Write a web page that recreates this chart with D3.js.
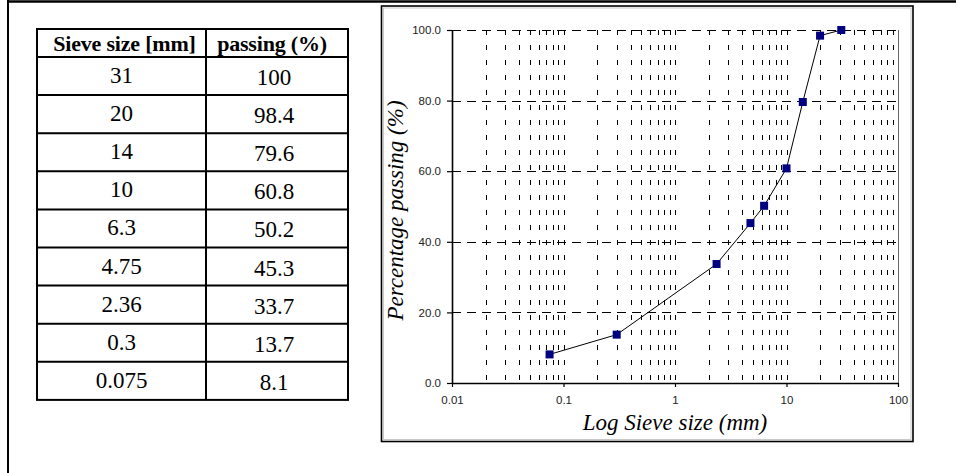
<!DOCTYPE html>
<html>
<head>
<meta charset="utf-8">
<script src="https://cdn.jsdelivr.net/npm/d3@7"></script>
<style>
  html, body { margin: 0; padding: 0; background: #fff; }
  svg { display: block; }
</style>
</head>
<body>
<svg id="chart" width="956" height="473"></svg>
<script>
// data
const sieveSizes = [31, 20, 14, 10, 6.3, 4.75, 2.36, 0.3, 0.075];
const passing = [100, 98.4, 79.6, 60.8, 50.2, 45.3, 33.7, 13.7, 8.1];
const tableHeaders = ["Sieve size [mm]", "passing (%)"];
const yTicks = [0, 20, 40, 60, 80, 100];
const xTicks = [0.01, 0.1, 1, 10, 100];
const xTitle = "Log Sieve size (mm)";
const yTitle = "Percentage passing (%)";

const svg = d3.select("#chart");
const serif = "'Liberation Serif', 'Times New Roman', Times, serif";
const sans = "'Liberation Sans', Arial, sans-serif";

// outer page frame (top + left edge only visible)
svg.append("line").attr("x1", 8).attr("x2", 956).attr("y1", 1.5).attr("y2", 1.5)
  .attr("stroke", "#000").attr("stroke-width", 2.5);
svg.append("line").attr("x1", 8).attr("x2", 8).attr("y1", 0).attr("y2", 473)
  .attr("stroke", "#000").attr("stroke-width", 2);

// ---- table ----
const tbl = { left: 37, mid: 206, right: 348, top: 29, headH: 28, rowH: 38.1 };
const rows = sieveSizes.map((s, i) => [String(s), String(passing[i])]);
const rowY = i => tbl.top + tbl.headH + i * tbl.rowH;
const tblBottom = rowY(rows.length);
const colX = [(tbl.left + tbl.mid) / 2, (tbl.mid + tbl.right) / 2 - 3];

const tg = svg.append("g");
tg.append("rect")
  .attr("x", tbl.left).attr("y", tbl.top)
  .attr("width", tbl.right - tbl.left).attr("height", tblBottom - tbl.top)
  .attr("fill", "none").attr("stroke", "#000").attr("stroke-width", 2);
tg.append("line").attr("x1", tbl.mid).attr("x2", tbl.mid)
  .attr("y1", tbl.top).attr("y2", tblBottom)
  .attr("stroke", "#000").attr("stroke-width", 2);
tg.selectAll("line.row")
  .data(d3.range(rows.length))
  .join("line").attr("class", "row")
  .attr("x1", tbl.left).attr("x2", tbl.right)
  .attr("y1", i => rowY(i)).attr("y2", i => rowY(i))
  .attr("stroke", "#000").attr("stroke-width", 2);

tg.selectAll("text.head")
  .data(tableHeaders)
  .join("text").attr("class", "head")
  .attr("x", (d, i) => colX[i] + (i === 0 ? 3 : -2))
  .attr("y", tbl.top + 22)
  .attr("text-anchor", "middle")
  .attr("font-family", serif).attr("font-weight", "bold")
  .attr("font-size", 22).attr("letter-spacing", -0.2)
  .text(d => d);

rows.forEach((r, i) => {
  tg.selectAll(null)
    .data(r)
    .join("text")
    .attr("x", (d, j) => colX[j])
    .attr("y", (d, j) => rowY(i) + 26 + (j === 1 ? 2 : 0))
    .attr("text-anchor", "middle")
    .attr("font-family", serif).attr("font-size", 23)
    .text(d => d);
});

// ---- chart frame ----
svg.append("rect")
  .attr("x", 381.5).attr("y", 6).attr("width", 531.5).attr("height", 435.5)
  .attr("fill", "none").attr("stroke", "#000").attr("stroke-width", 1.6);
svg.append("rect")
  .attr("x", 383.5).attr("y", 8).attr("width", 527.5).attr("height", 431.5)
  .attr("fill", "none").attr("stroke", "#bbb").attr("stroke-width", 0.8);

const margin = { top: 30, right: 898, bottom: 383, left: 452 };

const x = d3.scaleLog()
  .domain([0.01, 100])
  .range([margin.left, margin.right]);

const y = d3.scaleLinear()
  .domain([0, 100])
  .range([margin.bottom, margin.top]);

// vertical minor gridlines
const minor = x.ticks().filter(d => d > 0.01 && d < 100);
svg.append("g")
  .selectAll("line")
  .data(minor)
  .join("line")
  .attr("x1", d => Math.round(x(d)) + 0.5).attr("x2", d => Math.round(x(d)) + 0.5)
  .attr("y1", margin.top).attr("y2", margin.bottom)
  .attr("stroke", "#000").attr("stroke-width", 1)
  .attr("stroke-dasharray", "5,10");

// horizontal gridlines
svg.append("g")
  .selectAll("line")
  .data(yTicks.filter(d => d > 0))
  .join("line")
  .attr("x1", margin.left).attr("x2", margin.right)
  .attr("y1", d => Math.round(y(d)) + 0.5).attr("y2", d => Math.round(y(d)) + 0.5)
  .attr("stroke", "#000").attr("stroke-width", 1)
  .attr("stroke-dasharray", "9,6");

// right edge of plot area
svg.append("line")
  .attr("x1", margin.right + 0.5).attr("x2", margin.right + 0.5)
  .attr("y1", margin.top).attr("y2", margin.bottom)
  .attr("stroke", "#666").attr("stroke-width", 1);

// axes
const yAxis = svg.append("g")
  .attr("transform", `translate(${margin.left},0)`)
  .call(d3.axisLeft(y).tickValues(yTicks).tickFormat(d3.format(".1f"))
    .tickSize(5).tickSizeOuter(0).tickPadding(6));

const xAxis = svg.append("g")
  .attr("transform", `translate(0,${margin.bottom})`)
  .call(d3.axisBottom(x).tickValues(xTicks).tickFormat(d => String(d))
    .tickSize(4).tickSizeOuter(0).tickPadding(9));

[xAxis, yAxis].forEach(a => {
  a.select(".domain").attr("stroke", "#000").attr("stroke-width", 1.6);
  a.selectAll(".tick line").attr("stroke", "#000").attr("stroke-width", 1.2);
  a.selectAll(".tick text")
    .attr("font-family", sans).attr("font-size", 11.5).attr("fill", "#222");
});

// axis titles
svg.append("text")
  .attr("x", (margin.left + margin.right) / 2)
  .attr("y", 430)
  .attr("text-anchor", "middle")
  .attr("font-family", serif).attr("font-style", "italic").attr("font-size", 23)
  .text(xTitle);

svg.append("text")
  .attr("transform", `translate(403,${(margin.top + margin.bottom) / 2 + 4}) rotate(-90)`)
  .attr("text-anchor", "middle")
  .attr("font-family", serif).attr("font-style", "italic").attr("font-size", 23)
  .text(yTitle);

// curve
const points = sieveSizes.map((s, i) => ({ s, p: passing[i] }));
svg.append("path")
  .datum(points)
  .attr("fill", "none").attr("stroke", "#000").attr("stroke-width", 1)
  .attr("d", d3.line().x(d => x(d.s)).y(d => y(d.p)));

svg.append("g")
  .selectAll("rect")
  .data(points)
  .join("rect")
  .attr("x", d => x(d.s) - 4).attr("y", d => y(d.p) - 4)
  .attr("width", 8).attr("height", 8)
  .attr("fill", "#000080");
</script>
</body>
</html>
